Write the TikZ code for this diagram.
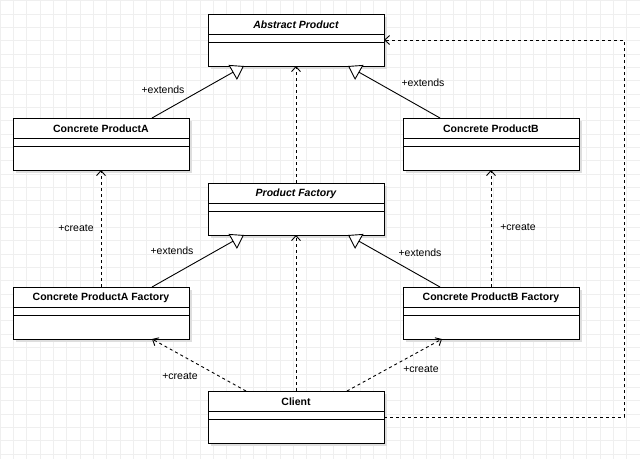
\documentclass[tikz,border=0pt]{standalone}
\usepackage{fontspec}
\setmainfont{Liberation Sans}
\usetikzlibrary{arrows.meta,calc}
\definecolor{gridc}{HTML}{EFEFEF}
\definecolor{shadowc}{HTML}{DEDEDE}
\newcommand\umlbox[4]{%
  \fill[shadowc] (#2+3,#3+3) rectangle ++(176,52);
  \node[cls] (#1) at (#2,#3) {};
  \node[ttl] (#1t) at ($(#1.north)+(0,10.5)$) {#4};
  \draw[sepline] ($(#1.north west)+(0,20.5)$) -- ($(#1.north east)+(0,20.5)$);
  \draw[sepline] ($(#1.north west)+(0,28.5)$) -- ($(#1.north east)+(0,28.5)$);
}
\begin{document}
\begin{tikzpicture}[x=1pt,y=-1pt,
  cls/.style={draw, fill=white, minimum width=176pt, minimum height=52pt, anchor=north west, inner sep=0pt, outer sep=0pt, line width=0.9pt},
  ttl/.style={font=\fontsize{10.5}{12}\selectfont\bfseries, inner sep=0pt},
  sepline/.style={line width=0.9pt},
  lbl/.style={font=\fontsize{10.5}{12}\selectfont, inner sep=0pt},
  gen/.style={line width=0.9pt, -{Triangle[length=13pt,width=17pt,fill=white,line width=0.9pt]}},
  dep/.style={line width=0.9pt, dash pattern=on 3pt off 3pt, -{Straight Barb[length=5pt,width=9pt,line width=0.9pt]}},
  gridline/.style={draw=gridc, line width=0.8pt}]
\useasboundingbox (0,0) rectangle (640,459);
\fill[white] (0,0) rectangle (640,459);
\foreach \i in {0,...,48} \draw[gridline] (\i*13.333,0) -- (\i*13.333,459);
\foreach \j in {0,...,34} \draw[gridline] (0,\j*13.333+0.7) -- (640,\j*13.333+0.7);

\umlbox{ap}{208}{14}{\itshape Abstract Product}
\umlbox{pa}{13}{118}{Concrete ProductA}
\umlbox{pb}{403}{118}{Concrete ProductB}
\umlbox{pf}{208}{183}{\itshape Product Factory}
\umlbox{fa}{13}{287}{Concrete ProductA Factory}
\umlbox{fb}{403}{287}{Concrete ProductB Factory}
\umlbox{cl}{208}{391}{Client}

% generalizations
\draw[gen] ($(pa.north west)+(139,0)$) -- ($(ap.south west)+(36,0)$);
\draw[gen] ($(pb.north west)+(37,0)$) -- ($(ap.south west)+(140,0)$);
\draw[gen] ($(fa.north west)+(139,0)$) -- ($(pf.south west)+(36,0)$);
\draw[gen] ($(fb.north west)+(37,0)$) -- ($(pf.south west)+(140,0)$);

% dependencies
\draw[dep] (pf.north) -- (ap.south);
\draw[dep] ($(fa.north west)+(88,0)$) -- ($(pa.south west)+(88,0)$);
\draw[dep] ($(fb.north west)+(88,0)$) -- ($(pb.south west)+(88,0)$);
\draw[dep] (cl.north) -- (pf.south);
\draw[dep] ($(cl.north west)+(38,0)$) -- ($(fa.south west)+(139,0)$);
\draw[dep] ($(cl.north west)+(139,0)$) -- ($(fb.south west)+(39,0)$);
\coordinate (c1) at (624,417);
\coordinate (c2) at (624,40);
\draw[dep] ($(cl.north east)+(0,26)$) -- (c1) -- (c2) -- ($(ap.north east)+(0,26)$);

% labels
\node[lbl] (l1) at (163,90) {+extends};
\node[lbl] (l2) at (423,83) {+extends};
\node[lbl] (l3) at (76,228) {+create};
\node[lbl] (l4) at (518,227) {+create};
\node[lbl] (l5) at (172,251) {+extends};
\node[lbl] (l6) at (420,253) {+extends};
\node[lbl] (l7) at (180,376) {+create};
\node[lbl] (l8) at (421,369) {+create};
\end{tikzpicture}
\end{document}
